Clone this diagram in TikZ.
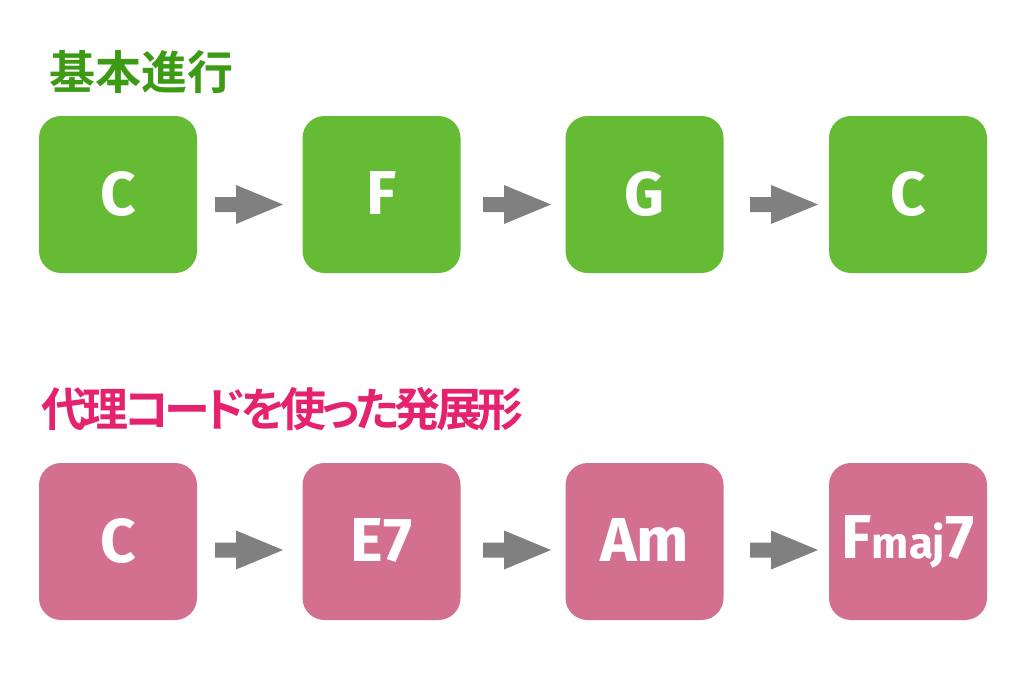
\documentclass[tikz,border=0pt]{standalone}
\usepackage{fontspec}
\setmainfont{Fira Sans}
\newfontfamily\cjk{Noto Sans CJK JP}[BoldFont={Noto Sans CJK JP Bold}]
\newfontfamily\cjkp{Noto Sans CJK JP}[BoldFont={Noto Sans CJK JP Bold},RawFeature=+palt]
\definecolor{boxgreen}{HTML}{66BB35}
\definecolor{titlegreen}{HTML}{3C9A14}
\definecolor{boxpink}{HTML}{D4708F}
\definecolor{titlepink}{HTML}{E5226E}
\definecolor{arrowgray}{HTML}{808080}
\newcommand\blockarr[1]{%
  \fill[arrowgray] (#1) ++(0,-7.5) -- ++(21,0) -- ++(0,-12) -- ++(47,19.5) -- ++(-47,19.5) -- ++(0,-12) -- ++(-21,0) -- cycle;}
\newcommand\tk{\kern-4.5pt}
\begin{document}
\begin{tikzpicture}[x=1pt,y=-1pt,
  chord/.style={rounded corners=22pt,minimum width=158pt,minimum height=157pt,inner sep=0pt,
    text=white,font=\bfseries\fontsize{62}{62}\selectfont},
  gbox/.style={chord,fill=boxgreen},
  pbox/.style={chord,fill=boxpink},
  title/.style={anchor=west,inner sep=0pt,font=\bfseries\fontsize{46}{46}\selectfont}]
\useasboundingbox[fill=white] (0,0) rectangle (1024,683);
\node[title,text=titlegreen] (t1) at (49,72) {\cjk 基本進行};
\node[title,text=titlepink] (t2) at (41,409.5) {\cjkp 代\tk 理\tk コ\tk ー\tk ド\tk を\tk 使\tk っ\tk た\tk 発\tk 展\tk 形};
% top row
\node[gbox] (a1) at (118,194.5) {\raisebox{2pt}{C}};
\node[gbox] (a2) at (381.5,194.5) {\raisebox{2pt}{F}};
\node[gbox] (a3) at (644.5,194.5) {\raisebox{2pt}{G}};
\node[gbox] (a4) at (908,194.5) {\raisebox{2pt}{C}};
% bottom row
\node[pbox] (b1) at (118,541.5) {\raisebox{2pt}{C}};
\node[pbox] (b2) at (381.5,541.5) {\raisebox{2pt}{E7}};
\node[pbox] (b3) at (644.5,541.5) {\raisebox{2pt}{Am}};
\node[pbox] (b4) at (908,541.5) {\raisebox{2pt}{F{\fontsize{44}{44}\selectfont maj}7}};
% arrows
\coordinate (p1) at (215,204.5);
\coordinate (p2) at (483,204.5);
\coordinate (p3) at (750,204.5);
\coordinate (q1) at (215,550);
\coordinate (q2) at (483,550);
\coordinate (q3) at (750,550);
\blockarr{p1}\blockarr{p2}\blockarr{p3}
\blockarr{q1}\blockarr{q2}\blockarr{q3}
\end{tikzpicture}
\end{document}
